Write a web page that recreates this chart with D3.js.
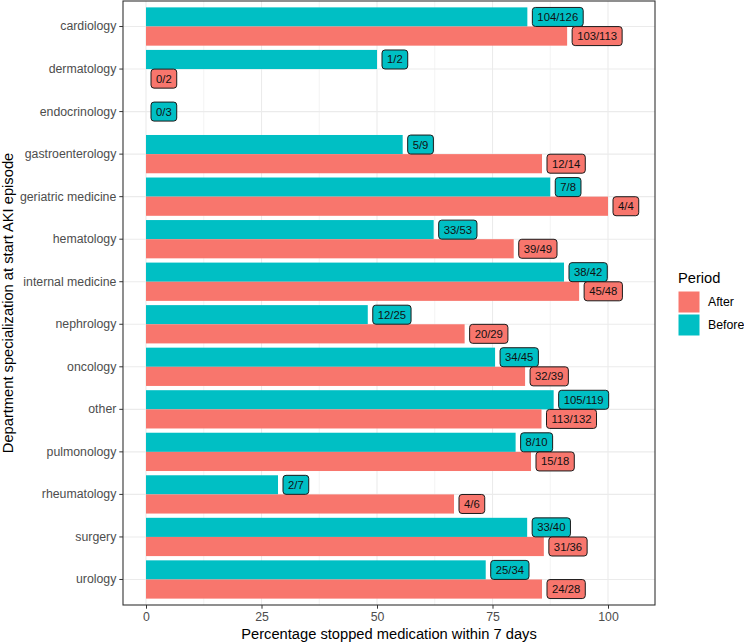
<!DOCTYPE html>
<html>
<head>
<meta charset="utf-8">
<script src="https://cdn.jsdelivr.net/npm/d3@7"></script>
<style>
  body { margin: 0; background: #fff; }
  svg { font-family: "Liberation Sans", Arial, sans-serif; display: block; }
</style>
</head>
<body>
<div id="chart"></div>
<script>
// data
const departments = ['cardiology', 'dermatology', 'endocrinology', 'gastroenterology',
  'geriatric medicine', 'hematology', 'internal medicine', 'nephrology', 'oncology',
  'other', 'pulmonology', 'rheumatology', 'surgery', 'urology'];
const beforeStopped = [104, 1, 0, 5, 7, 33, 38, 12, 34, 105, 8, 2, 33, 25];
const beforeTotal   = [126, 2, 3, 9, 8, 53, 42, 25, 45, 119, 10, 7, 40, 34];
const afterStopped  = [103, 0, null, 12, 4, 39, 45, 20, 32, 113, 15, 4, 31, 24];
const afterTotal    = [113, 2, null, 14, 4, 49, 48, 29, 39, 132, 18, 6, 36, 28];
const periods = ['After', 'Before'];
const periodColours = ['#F8766D', '#00BFC4'];
const xTicks = [0, 25, 50, 75, 100];

// build rows
let rows = [];
departments.forEach((d, i) => {
  const groups = [];
  groups.push({period: 'Before', n: beforeStopped[i], total: beforeTotal[i]});
  if (afterStopped[i] !== null) groups.push({period: 'After', n: afterStopped[i], total: afterTotal[i]});
  groups.forEach((g, j) => {
    rows.push({dept: d, period: g.period, n: g.n, total: g.total,
      pct: 100 * g.n / g.total, slot: j, slots: groups.length});
  });
});

const W = 744, H = 643;
const panel = {left: 123, right: 655, top: 1, bottom: 605};

const svg = d3.select('#chart').append('svg')
  .attr('width', W).attr('height', H);

const x = d3.scaleLinear()
  .domain([-4.98, 110.17])
  .range([panel.left, panel.right]);

const y = d3.scaleBand()
  .domain(departments)
  .range([panel.top, panel.bottom])
  .paddingInner(0.1)
  .paddingOuter(0.15);

const colour = d3.scaleOrdinal().domain(periods).range(periodColours);

// grid
const grid = svg.append('g');
const minor = d3.range(12.5, 110, 25);
grid.selectAll('line.minor').data(minor).enter().append('line')
  .attr('x1', d => x(d)).attr('x2', d => x(d))
  .attr('y1', panel.top).attr('y2', panel.bottom)
  .attr('stroke', '#EBEBEB').attr('stroke-width', 0.6);
grid.selectAll('line.majx').data(xTicks).enter().append('line')
  .attr('x1', d => x(d)).attr('x2', d => x(d))
  .attr('y1', panel.top).attr('y2', panel.bottom)
  .attr('stroke', '#EBEBEB').attr('stroke-width', 1.1);
grid.selectAll('line.majy').data(departments).enter().append('line')
  .attr('x1', panel.left).attr('x2', panel.right)
  .attr('y1', d => y(d) + y.bandwidth() / 2).attr('y2', d => y(d) + y.bandwidth() / 2)
  .attr('stroke', '#EBEBEB').attr('stroke-width', 1.1);

// position helpers
const barY = d => y(d.dept) + y.bandwidth() * d.slot / d.slots;
const barH = d => y.bandwidth() / d.slots;

// bars
svg.append('g').selectAll('rect').data(rows).enter().append('rect')
  .attr('x', x(0))
  .attr('y', barY)
  .attr('width', d => x(d.pct) - x(0))
  .attr('height', barH)
  .attr('fill', d => colour(d.period));

// labels
const labels = svg.append('g').selectAll('g').data(rows).enter().append('g');
labels.each(function(d) {
  const g = d3.select(this);
  const cy = barY(d) + barH(d) / 2;
  const x0 = x(d.pct) + 5;
  const rect = g.append('rect');
  const t = g.append('text')
    .attr('x', x0 + 5).attr('y', cy + 4)
    .attr('font-size', '11.3px').attr('fill', '#111')
    .text(d.n + '/' + d.total);
  const w = t.node().getComputedTextLength();
  rect.attr('x', x0).attr('y', cy - 9.5)
    .attr('width', w + 10).attr('height', 19)
    .attr('rx', 3).attr('ry', 3)
    .attr('fill', colour(d.period))
    .attr('stroke', '#1a1a1a').attr('stroke-width', 1);
});

// panel border
svg.append('rect')
  .attr('x', panel.left).attr('y', panel.top)
  .attr('width', panel.right - panel.left).attr('height', panel.bottom - panel.top)
  .attr('fill', 'none').attr('stroke', '#333333').attr('stroke-width', 1.1);

// x axis
const xAxis = svg.append('g')
  .attr('transform', 'translate(0,' + panel.bottom + ')')
  .call(d3.axisBottom(x).tickValues(xTicks).tickSize(3.7).tickPadding(4));
xAxis.select('.domain').remove();
xAxis.selectAll('line').attr('stroke', '#333333');
xAxis.selectAll('text').attr('font-size', '12.3px').attr('fill', '#4D4D4D')
  .attr('font-family', '"Liberation Sans", Arial, sans-serif');

// y axis
const yAxis = svg.append('g')
  .attr('transform', 'translate(' + panel.left + ',0)')
  .call(d3.axisLeft(y).tickSize(3.7).tickPadding(3));
yAxis.select('.domain').remove();
yAxis.selectAll('line').attr('stroke', '#333333');
yAxis.selectAll('text').attr('font-size', '12.3px').attr('fill', '#4D4D4D')
  .attr('font-family', '"Liberation Sans", Arial, sans-serif');

// axis titles
svg.append('text')
  .attr('x', (panel.left + panel.right) / 2).attr('y', 639)
  .attr('text-anchor', 'middle').attr('font-size', '14.7px').attr('fill', '#000')
  .text('Percentage stopped medication within 7 days');
svg.append('text')
  .attr('transform', 'translate(13,' + (panel.top + panel.bottom) / 2 + ') rotate(-90)')
  .attr('text-anchor', 'middle').attr('font-size', '14.7px').attr('fill', '#000')
  .text('Department specialization at start AKI episode');

// legend
const legend = svg.append('g').attr('transform', 'translate(678,0)');
legend.append('text').attr('x', 0).attr('y', 283)
  .attr('font-size', '14.7px').attr('fill', '#000').text('Period');
periods.forEach((p, i) => {
  const ky = 291 + i * 23;
  legend.append('rect').attr('x', 0).attr('y', ky)
    .attr('width', 22).attr('height', 22)
    .attr('fill', colour(p)).attr('stroke', '#fff').attr('stroke-width', 1);
  legend.append('text').attr('x', 30).attr('y', ky + 15)
    .attr('font-size', '12.3px').attr('fill', '#000').text(p);
});
</script>
</body>
</html>
